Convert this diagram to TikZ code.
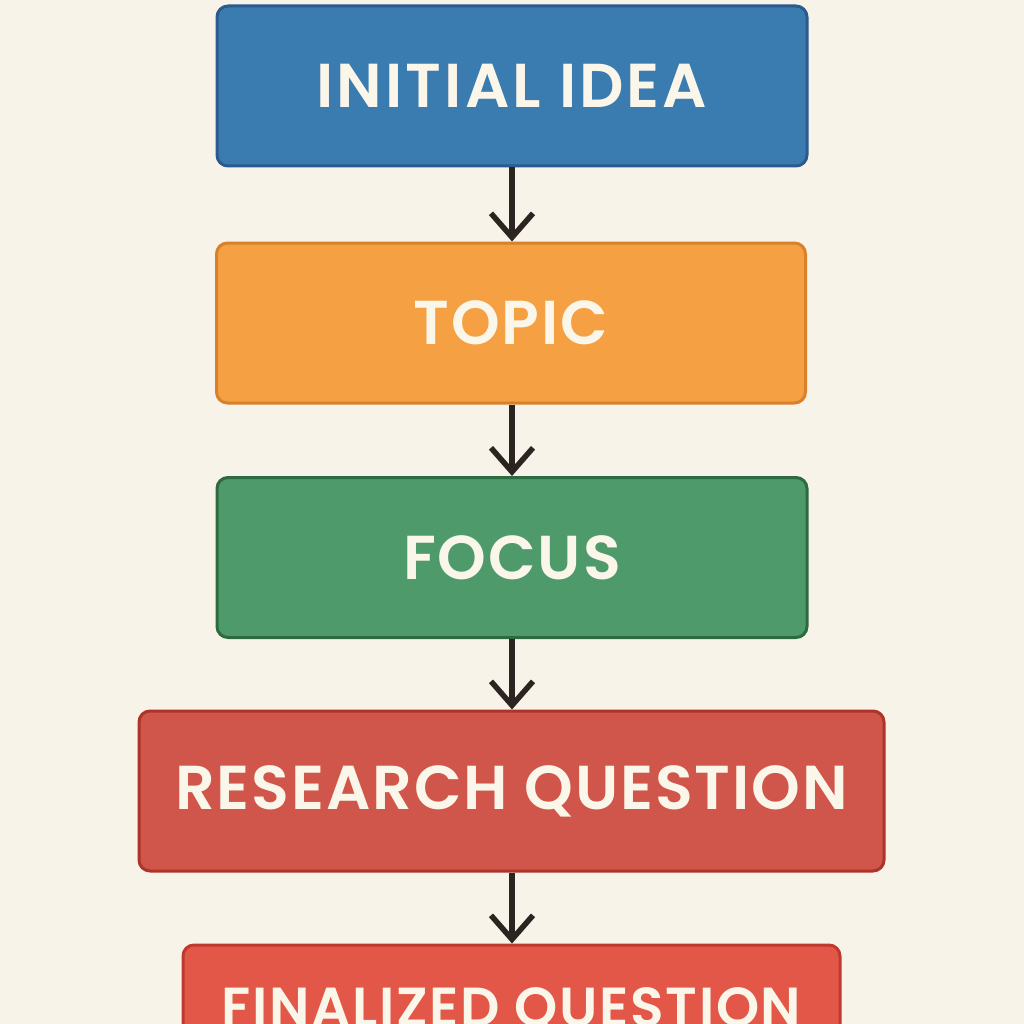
\documentclass[tikz,border=0pt]{standalone}
\usepackage{fontspec}
\setmainfont{Poppins}[BoldFont={Poppins SemiBold}, LetterSpace=3]
\usetikzlibrary{arrows.meta}
\definecolor{bg}{HTML}{F8F3E9}
\definecolor{txt}{HTML}{FBF6EA}
\definecolor{arr}{HTML}{2B2420}
\definecolor{bluef}{HTML}{3A7BB0}
\definecolor{blued}{HTML}{2A5A8E}
\definecolor{orf}{HTML}{F4A043}
\definecolor{ord}{HTML}{D9802A}
\definecolor{grf}{HTML}{4E9A6A}
\definecolor{grd}{HTML}{2E6A40}
\definecolor{rdf}{HTML}{D0554A}
\definecolor{rdd}{HTML}{AE3328}
\definecolor{fnf}{HTML}{E25747}
\definecolor{fnd}{HTML}{BE3A2E}
\tikzset{
  stage/.style={rectangle, rounded corners=11pt, line width=3pt, text=txt,
    font=\fontsize{62}{62}\selectfont\bfseries, inner sep=0pt, anchor=center},
  flow/.style={draw=arr, line width=5.5pt,
    -{Straight Barb[length=24pt,width=42pt]}}
}
\begin{document}
\begin{tikzpicture}[x=1pt,y=-1pt]
\fill[bg] (0,0) rectangle (1024,1024);
\useasboundingbox (0,0) rectangle (1024,1024);
\begin{scope}
\clip (0,0) rectangle (1024,1024);
\node[stage, fill=bluef, draw=blued, minimum width=590pt, minimum height=160pt] (idea) at (512,86) {\addfontfeature{LetterSpace=5}INITIAL IDEA};
\node[stage, fill=orf, draw=ord, minimum width=589pt, minimum height=160pt] (topic) at (511,323) {TOPIC};
\node[stage, fill=grf, draw=grd, minimum width=590pt, minimum height=160pt] (focus) at (512,557.5) {FOCUS};
\node[stage, fill=rdf, draw=rdd, minimum width=745pt, minimum height=160pt] (rq) at (511.5,791) {RESEARCH QUESTION};
\node[stage, fill=fnf, draw=fnd, minimum width=657pt, minimum height=130pt,
  font=\fontsize{55}{55}\selectfont\bfseries] (fq) at (511.5,1010) {FINALIZED QUESTION};
\end{scope}
\draw[flow] (idea.south -| 512,0) -- (topic.north -| 512,0);
\draw[flow] (topic.south -| 512,0) -- (focus.north -| 512,0);
\draw[flow] (focus.south -| 512,0) -- (rq.north -| 512,0);
\draw[flow] (rq.south -| 512,0) -- (fq.north -| 512,0);
\end{tikzpicture}
\end{document}
